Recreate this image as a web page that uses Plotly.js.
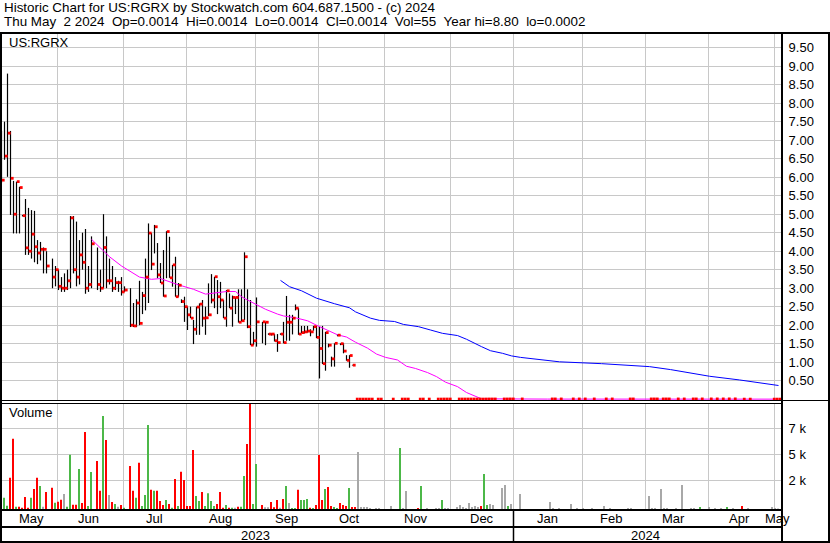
<!DOCTYPE html>
<html><head><meta charset="utf-8">
<script src="https://cdn.plot.ly/plotly-3.0.1.min.js"></script>
<style>html,body{margin:0;padding:0;background:#fff;}#chart{width:830px;height:543px;}</style>
</head><body><div id="chart"></div>
<script>
// ---------- daily bars (trading days) ----------
const priceDates = [
'2023-05-05','2023-05-08','2023-05-09','2023-05-10','2023-05-11','2023-05-12','2023-05-15','2023-05-16','2023-05-17','2023-05-18','2023-05-19','2023-05-22','2023-05-23','2023-05-24','2023-05-25','2023-05-26','2023-05-30','2023-05-31',
'2023-06-01','2023-06-02','2023-06-05','2023-06-06','2023-06-07','2023-06-08','2023-06-09','2023-06-12','2023-06-13','2023-06-14','2023-06-15','2023-06-16','2023-06-20','2023-06-21','2023-06-22','2023-06-23','2023-06-26','2023-06-27','2023-06-28','2023-06-29','2023-06-30',
'2023-07-03','2023-07-05','2023-07-06','2023-07-07','2023-07-10','2023-07-11','2023-07-12','2023-07-13','2023-07-14','2023-07-17','2023-07-18','2023-07-19','2023-07-20','2023-07-21','2023-07-24','2023-07-25','2023-07-26','2023-07-27','2023-07-28','2023-07-31',
'2023-08-01','2023-08-02','2023-08-03','2023-08-04','2023-08-07','2023-08-08','2023-08-09','2023-08-10','2023-08-11','2023-08-14','2023-08-15','2023-08-16','2023-08-17','2023-08-18','2023-08-21','2023-08-22','2023-08-23','2023-08-24','2023-08-25','2023-08-28','2023-08-29','2023-08-30','2023-08-31',
'2023-09-01','2023-09-05','2023-09-06','2023-09-07','2023-09-08','2023-09-11','2023-09-12','2023-09-13','2023-09-14','2023-09-15','2023-09-18','2023-09-19','2023-09-20','2023-09-21','2023-09-22','2023-09-25','2023-09-26','2023-09-27','2023-09-28','2023-09-29',
'2023-10-02','2023-10-03','2023-10-04','2023-10-05','2023-10-06','2023-10-09','2023-10-10','2023-10-11','2023-10-12','2023-10-13','2023-10-16','2023-10-17'];
const high = [
7.25,7.5,8.8,7.25,5.9,5.88,5.74,4.98,5.41,5.17,5.11,5.09,4.3,4.25,4.1,4.0,3.8,3.6,
3.5,3.3,3.4,3.5,4.95,4.95,4.8,4.3,4.5,4.6,3.6,4.4,4.1,3.5,5.0,4.4,3.8,3.6,3.3,3.2,3.3,
3.05,3.0,2.6,2.7,3.2,2.9,3.8,4.75,4.49,4.71,4.22,3.68,4.03,4.54,4.39,3.63,3.85,3.14,2.7,2.77,
2.5,2.5,2.14,2.5,2.59,2.68,2.5,3.13,3.38,3.31,3.22,3.17,2.68,2.95,2.86,2.8,2.75,2.97,2.97,3.97,2.97,2.68,1.82,
2.75,2.09,2.09,1.78,1.78,1.76,1.76,1.78,2.09,2.79,2.28,2.28,2.56,2.46,1.98,1.98,1.98,1.89,1.98,1.98,
1.96,1.98,1.82,1.5,1.15,1.51,1.75,1.51,1.51,1.19,1.19,0.93];
const low = [
5.85,6.47,6.01,4.98,4.48,4.48,4.48,4.94,3.9,3.9,3.8,3.7,3.65,3.75,3.4,3.4,3.0,3.05,
2.95,2.9,2.9,2.95,3.0,3.4,3.05,3.1,3.5,2.85,2.9,3.0,2.95,2.9,3.0,3.0,3.1,2.9,2.95,2.9,2.8,
2.9,1.95,1.95,1.95,2.0,2.3,2.4,2.6,3.49,3.94,3.27,3.14,2.77,3.27,3.28,3.04,2.77,2.77,2.6,2.09,
1.87,2.19,1.49,1.74,1.74,1.96,1.74,2.25,2.59,2.46,2.3,2.46,2.19,1.96,2.46,1.96,2.3,2.07,2.1,2.14,1.92,1.46,1.46,
1.42,1.51,1.46,1.74,1.72,1.56,1.28,1.74,1.51,1.58,1.58,1.75,2.4,1.74,1.78,1.78,1.8,1.7,1.85,1.65,
0.56,0.95,0.77,1.4,0.88,0.88,1.7,1.46,1.24,1.04,0.85,0.91];
const close = [
5.92,6.57,7.19,5.97,5.0,5.88,5.72,4.96,4.09,4.0,4.46,4.12,3.95,4.05,4.05,3.6,3.3,3.5,
3.05,3.0,3.0,3.2,4.9,3.5,3.3,3.9,3.7,3.0,3.1,4.2,3.1,3.0,4.1,3.2,3.2,3.0,3.15,3.15,2.9,
2.95,2.0,1.98,2.6,2.05,2.8,3.3,4.49,3.65,4.66,3.36,3.14,2.79,4.53,3.28,3.63,2.77,3.08,2.64,2.5,
2.28,2.19,1.89,2.49,2.57,2.19,2.2,2.28,2.68,3.31,2.77,2.68,2.19,2.93,2.46,2.75,2.75,2.08,2.12,3.85,1.96,1.46,1.58,
2.09,2.09,2.08,1.76,1.76,1.58,1.53,1.76,1.53,2.08,2.08,2.19,2.46,1.76,1.8,1.82,1.84,1.82,1.96,1.67,
1.37,0.96,1.8,1.46,1.09,1.51,1.73,1.5,1.3,1.05,1.18,0.92];
const volume = [
0,1090,320,3010,6760,220,220,130,1150,130,1090,1920,3010,2210,220,1630,2050,610,
700,890,1440,220,5220,410,410,3850,580,7400,290,3560,4620,1760,8940,6630,1350,670,480,220,380,
130,4130,1760,1090,4450,290,1350,8080,1860,1760,1760,770,380,870,480,130,2880,290,3590,2790,
290,290,5670,1250,770,1630,290,1510,770,290,480,1630,130,380,130,130,130,220,220,3170,6250,10100,480,
4330,380,160,160,670,160,870,130,960,2210,580,100,100,1860,870,870,960,130,100,380,
5190,870,1920,2120,290,190,100,580,380,290,2020,190];
const volDir = [
'n','u','u','d','d','u','d','d','d','d','u','d','d','u','n','d','d','u',
'd','d','n','u','u','d','d','u','d','d','u','u','d','d','u','d','n','d','u','n','d',
'u','d','d','u','d','u','u','u','d','u','d','d','d','u','d','u','d','u','d','d',
'd','d','d','u','u','d','u','u','u','u','d','d','d','u','d','u','n','d','u','u','d','d','u',
'u','d','n','n','d','d','d','n','d','u','n','u','u','d','u','u','u','d','u','d',
'd','d','u','d','d','u','u','d','d','d','u','d'];

// ---------- after the collapse: days with trades ----------
const lateDates = [
'2023-10-18','2023-10-19','2023-10-20','2023-10-23','2023-10-24','2023-10-25','2023-10-27','2023-10-30',
'2023-11-03','2023-11-08','2023-11-09','2023-11-10','2023-11-16','2023-11-17','2023-11-21','2023-11-24','2023-11-27','2023-11-28','2023-11-29','2023-11-30',
'2023-12-05','2023-12-06','2023-12-07','2023-12-08','2023-12-11','2023-12-12','2023-12-13','2023-12-14','2023-12-15','2023-12-18','2023-12-19','2023-12-20','2023-12-21','2023-12-26','2023-12-27','2023-12-28','2023-12-29',
'2024-01-03','2024-01-17','2024-01-18','2024-01-22','2024-01-26','2024-01-30',
'2024-02-01','2024-02-06','2024-02-12','2024-02-14','2024-02-22','2024-02-23',
'2024-03-04','2024-03-05','2024-03-06','2024-03-08','2024-03-11','2024-03-12','2024-03-15','2024-03-19','2024-03-22','2024-03-25','2024-03-27',
'2024-04-01','2024-04-03','2024-04-05','2024-04-09','2024-04-11','2024-04-16','2024-04-18','2024-04-30',
'2024-05-01','2024-05-02'];
const lateClose = [
0.002,0.002,0.002,0.002,0.002,0.002,0.002,0.002,
0.002,0.003,0.003,0.003,0.002,0.003,0.003,0.003,0.003,0.004,0.004,0.004,
0.004,0.004,0.004,0.004,0.004,0.004,0.004,0.004,0.003,0.004,0.005,0.005,0.005,0.005,0.005,0.006,0.006,
0.006,0.006,0.006,0.006,0.006,0.006,
0.006,0.006,0.006,0.006,0.006,0.006,
0.006,0.006,0.006,0.006,0.006,0.006,0.006,0.006,0.006,0.006,0.007,
0.007,0.007,0.007,0.008,0.008,0.0014,0.0014,0.0014,
0.0014,0.0014];
const lateVolume = [
190,5480,190,190,190,100,100,100,
290,5870,100,1730,100,2210,100,100,100,870,100,100,
190,380,190,100,580,190,290,190,290,3370,380,480,380,2020,2310,290,480,
1440,670,100,100,480,100,
100,100,290,100,100,100,
1250,100,100,1920,100,100,100,2310,100,100,190,
190,100,100,190,100,290,100,190,
100,55];
const lateDir = [
'd','n','n','n','n','n','n','n',
'n','u','n','n','d','u','n','n','n','u','n','n',
'n','n','n','n','n','n','n','n','d','u','u','n','n','n','n','u','n',
'n','n','n','n','n','n',
'n','n','n','n','n','n',
'n','n','n','n','n','n','n','n','n','n','u',
'n','n','n','u','n','d','n','n',
'n','n'];

// ---------- moving averages ----------
const maShortDates = ['2023-06-16','2023-06-21','2023-06-26','2023-06-30','2023-07-05','2023-07-10','2023-07-14','2023-07-19','2023-07-27','2023-08-01','2023-08-03','2023-08-09','2023-08-15','2023-08-18','2023-08-23','2023-08-25','2023-08-29','2023-09-01','2023-09-06','2023-09-12','2023-09-14','2023-09-20','2023-09-26','2023-09-29','2023-10-04','2023-10-10','2023-10-13','2023-10-18','2023-10-24','2023-10-27','2023-11-01','2023-11-07','2023-11-10','2023-11-15','2023-11-21','2023-11-24','2023-11-29','2023-12-05','2023-12-08','2023-12-13','2023-12-15','2024-01-16','2024-03-15','2024-05-02'];
const maShort = [4.32,4.08,3.85,3.6,3.45,3.3,3.24,3.26,3.09,3.03,2.97,2.84,2.88,2.91,2.91,2.77,2.68,2.55,2.43,2.3,2.25,2.2,2.12,2.0,1.88,1.74,1.68,1.54,1.38,1.22,1.13,1.06,0.89,0.83,0.72,0.61,0.46,0.34,0.18,0.07,0.01,0.003,0.002,0.0014];
const maLongDates = ['2023-09-13','2023-09-18','2023-09-22','2023-09-29','2023-10-09','2023-10-16','2023-10-18','2023-10-25','2023-10-30','2023-11-06','2023-11-09','2023-11-16','2023-11-22','2023-11-28','2023-12-05','2023-12-08','2023-12-15','2023-12-20','2023-12-26','2023-12-29','2024-01-03','2024-01-12','2024-01-22','2024-02-09','2024-02-23','2024-03-04','2024-03-13','2024-03-22','2024-04-01','2024-04-15','2024-04-24','2024-05-02'];
const maLong = [3.21,3.04,2.93,2.73,2.58,2.47,2.36,2.19,2.13,2.1,2.02,1.96,1.87,1.78,1.72,1.62,1.42,1.31,1.24,1.17,1.13,1.06,1.01,0.96,0.92,0.88,0.8,0.7,0.62,0.52,0.45,0.37];

// ---------- axis labels ----------
const priceTicks = [0.5,1,1.5,2,2.5,3,3.5,4,4.5,5,5.5,6,6.5,7,7.5,8,8.5,9,9.5];
const volTicks = [2760,5260,7760];
const volTickText = ['2 k','5 k','7 k'];
const monthLabels = ['May','Jun','Jul','Aug','Sep','Oct','Nov','Dec','Jan','Feb','Mar','Apr','May'];
const yearLabels = ['2023','2024'];
const titleLine1 = 'Historic Chart for US:RGRX by Stockwatch.com 604.687.1500 - (c) 2024';
const titleLine2 = 'Thu May  2 2024  Op=0.0014  Hi=0.0014  Lo=0.0014  Cl=0.0014  Vol=55  Year hi=8.80  lo=0.0002';

// ---------- layout helpers ----------
const W = 830, H = 543;
const px = v => v / W, py = v => 1 - v / H;
const monthMid = ['2023-05-19','2023-06-15','2023-07-17','2023-08-16','2023-09-15','2023-10-16','2023-11-15','2023-12-15','2024-01-16','2024-02-14','2024-03-14','2024-04-15','2024-05-01 12:00'];
const monthGrid = ['2023-05-31 16:00','2023-06-30 16:00','2023-07-31 16:00','2023-08-31 16:00','2023-09-29 16:00','2023-10-31 16:00','2023-11-30 16:00','2023-12-29 16:00','2024-01-31 16:00','2024-02-29 16:00','2024-03-29 16:00','2024-04-30 16:00'];
const xRange = ['2023-05-04 12:00','2024-05-02 20:00'];
const dirColor = {u:'#4cb848', d:'#ff0000', n:'#a8a8a8'};
const FONT = 'Arial, "Liberation Sans", sans-serif';
const nb = s => s.replace(/ /g, '\u00a0');

// stems
const sx = [], sy = [];
priceDates.forEach((d, i) => { sx.push(d, d, null); sy.push(low[i], high[i], null); });
const allDates = priceDates.concat(lateDates);
const allClose = close.concat(lateClose);
const allVol = volume.concat(lateVolume);
const allDir = volDir.concat(lateDir);
const DAY = 86400000;

const traces = [
  {type:'bar', x: allDates, y: allVol, xaxis:'x2', yaxis:'y2',
   width: DAY*2/3, offset: -DAY/2,
   marker:{color: allDir.map(c => dirColor[c]), line:{width:0}}, hoverinfo:'skip'},
  {type:'scatter', mode:'lines', x: sx, y: sy, xaxis:'x', yaxis:'y',
   line:{color:'#000', width:1.2}, connectgaps:false, hoverinfo:'skip'},
  {type:'scatter', mode:'lines', x: maShortDates, y: maShort, line:{color:'#ff00ff', width:1}, hoverinfo:'skip'},
  {type:'scatter', mode:'lines', x: maLongDates, y: maLong, line:{color:'#0000ff', width:1}, hoverinfo:'skip'},
  {type:'scatter', mode:'markers', x: allDates.map(d => d + ' 14:00'), y: allClose,
   marker:{symbol:'square', size:2.8, color:'#ff0000', line:{width:0}}, hoverinfo:'skip'}
];

const xCommon = {type:'date', domain:[0, px(781)], range: xRange,
  rangebreaks:[{bounds:['sat','mon']}], tickvals: monthGrid, showticklabels:false, ticks:'',
  showgrid:true, gridcolor:'#c8c8c8', gridwidth:1, zeroline:false, showline:false, fixedrange:true};
const yCommon = {side:'right', ticks:'outside', ticklen:4, tickcolor:'rgba(0,0,0,0)',
  showgrid:true, gridcolor:'#c8c8c8', gridwidth:1, zeroline:false, showline:false, fixedrange:true,
  tickfont:{family:FONT, size:13, color:'#000'}};

const ln = (x0,y0,x1,y1,w) => ({type:'line', xref:'paper', yref:'paper', x0:px(x0), y0:py(y0), x1:px(x1), y1:py(y1), line:{color:'#000', width:w}, layer:'above'});
const shapes = [
  ln(0,33,830,33,2), ln(1,32,1,543,2), ln(829,32,829,543,2), ln(0,542,830,542,2),
  ln(782,32,782,543,2), ln(0,400.5,830,400.5,1), ln(0,403.5,782,403.5,1),
  ln(0,510,782,510,2), ln(0,527,782,527,2), ln(513.5,510,513.5,542,1.5)
];

const ann = (text, x, y, xanchor, xref, size) => ({text, x, y, xref: xref || 'paper', yref:'paper',
  xanchor: xanchor || 'left', yanchor:'middle', showarrow:false,
  font:{family:FONT, size: size || 13, color:'#000'}});
const annotations = [
  ann(nb(titleLine1), px(2), py(7.5), 'left', 'paper', 13.4),
  ann(nb(titleLine2), px(2), py(21.5), 'left', 'paper', 13.4),
  ann('US:RGRX', px(7), py(42), 'left'),
  ann('Volume', px(7), py(413), 'left'),
  ann(yearLabels[0], px(255), py(535), 'center'),
  ann(yearLabels[1], px(645.5), py(535), 'center')
];
monthLabels.forEach((m, i) => annotations.push(ann(m, monthMid[i], py(518.5), 'center', 'x')));

const layout = {
  width: W, height: H, margin:{l:0, r:0, t:0, b:0},
  paper_bgcolor:'#fff', plot_bgcolor:'#fff', showlegend:false, hovermode:false,
  font:{family:FONT, size:13, color:'#000'},
  xaxis: Object.assign({}, xCommon, {anchor:'y'}),
  xaxis2: Object.assign({}, xCommon, {anchor:'y2'}),
  yaxis: Object.assign({}, yCommon, {anchor:'x', domain:[py(400), py(33)], range:[-0.022, 9.897],
    tickvals: priceTicks, tickformat:'.2f'}),
  yaxis2: Object.assign({}, yCommon, {anchor:'x2', domain:[py(509), py(403.5)], range:[0, 10144],
    tickvals: volTicks, ticktext: volTickText}),
  shapes, annotations
};

Plotly.newPlot('chart', traces, layout, {staticPlot:true, displayModeBar:false});
</script>
</body></html>
